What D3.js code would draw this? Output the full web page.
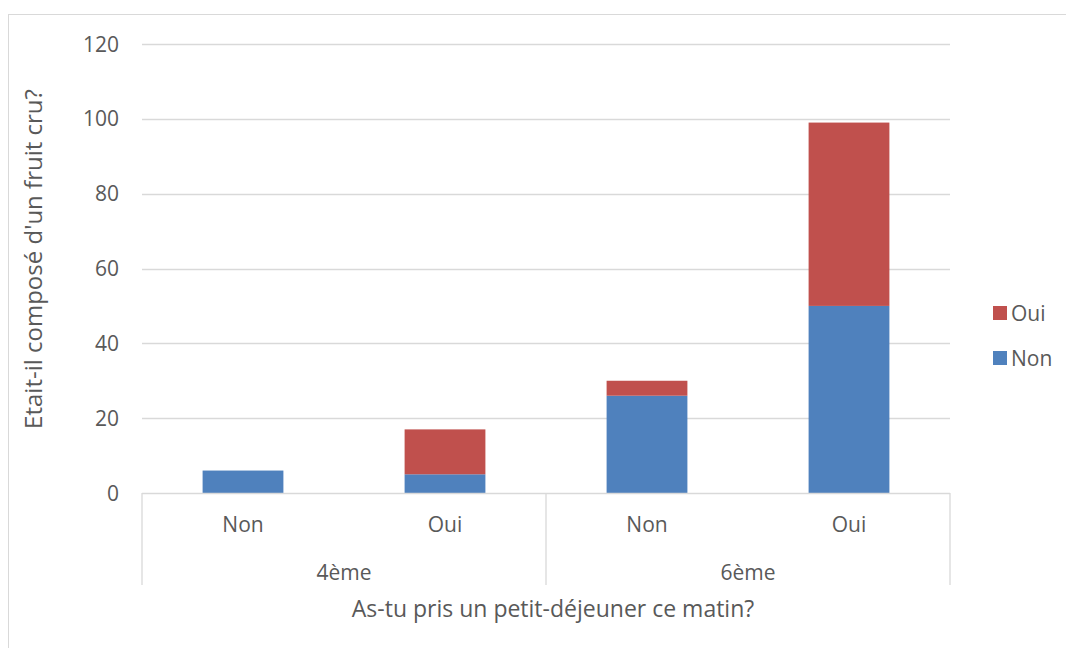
<!DOCTYPE html>
<html>
<head>
<meta charset="utf-8">
<script src="https://cdn.jsdelivr.net/npm/d3@7"></script>
<style>
  html, body { margin: 0; padding: 0; background: #fff; }
  svg text { font-family: "Open Sans", "Liberation Sans", sans-serif; fill: #595959; }
</style>
</head>
<body>
<svg id="chart" width="1066" height="648"></svg>
<script>
// Breakfast survey: grouped by class level, then by "breakfast taken?"
const groups = ["4ème", "6ème"];
const categories = [
  { group: "4ème", label: "Non" },
  { group: "4ème", label: "Oui" },
  { group: "6ème", label: "Non" },
  { group: "6ème", label: "Oui" }
];
// Stack series: "did it contain raw fruit?"
const seriesNames = ["Non", "Oui"];
const valuesNon = [6, 5, 26, 50];
const valuesOui = [0, 12, 4, 49];
const yTicks = [0, 20, 40, 60, 80, 100, 120];
const colors = { Non: "#4f81bd", Oui: "#c0504d" };

const svg = d3.select("#chart");
const W = 1066, H = 648;

// chart border
svg.append("rect").attr("x", 8.5).attr("y", 14.5).attr("width", W).attr("height", H)
  .attr("fill", "none").attr("stroke", "#d9d9d9").attr("stroke-width", 1);

const plot = { left: 142, right: 950, top: 44, bottom: 493 };

const x = d3.scaleBand()
  .domain(d3.range(categories.length))
  .range([plot.left, plot.right])
  .paddingInner(0.6).paddingOuter(0.3);

const y = d3.scaleLinear().domain([0, 120]).range([plot.bottom, plot.top]);

// gridlines
svg.append("g").selectAll("line").data(yTicks.filter(t => t > 0)).join("line")
  .attr("x1", plot.left).attr("x2", plot.right)
  .attr("y1", d => Math.round(y(d)) + 0.5).attr("y2", d => Math.round(y(d)) + 0.5)
  .attr("stroke", "#d9d9d9").attr("stroke-width", 1.3);

// y tick labels
svg.append("g").selectAll("text").data(yTicks).join("text")
  .attr("x", 119).attr("y", d => y(d)).attr("dy", "0.36em")
  .attr("text-anchor", "end").attr("font-size", 21).text(d => d);

// stacked data
const table = categories.map((c, i) => ({ i, Non: valuesNon[i], Oui: valuesOui[i] }));
const stacked = d3.stack().keys(seriesNames)(table);

svg.append("g").selectAll("g").data(stacked).join("g")
  .attr("fill", s => colors[s.key])
  .selectAll("rect").data(s => s.filter(d => d[1] > d[0])).join("rect")
  .attr("x", d => x(d.data.i))
  .attr("width", x.bandwidth())
  .attr("y", d => y(d[1]))
  .attr("height", d => y(d[0]) - y(d[1]));

// category axis: baseline and group separators
const axisG = svg.append("g").attr("stroke", "#d9d9d9").attr("stroke-width", 1.3);
axisG.append("line").attr("x1", plot.left).attr("x2", plot.right)
  .attr("y1", plot.bottom + 0.5).attr("y2", plot.bottom + 0.5);
const sepX = [plot.left, plot.left + 2 * (plot.right - plot.left) / 4, plot.right];
axisG.selectAll("line.sep").data(sepX).join("line").attr("class", "sep")
  .attr("x1", d => d).attr("x2", d => d)
  .attr("y1", plot.bottom).attr("y2", 585);

// inner labels
svg.append("g").selectAll("text").data(categories).join("text")
  .attr("x", (d, i) => x(i) + x.bandwidth() / 2).attr("y", 532)
  .attr("text-anchor", "middle").attr("font-size", 21).text(d => d.label);

// group labels
svg.append("g").selectAll("text").data(groups).join("text")
  .attr("x", (g, gi) => (sepX[gi] + sepX[gi + 1]) / 2).attr("y", 580)
  .attr("text-anchor", "middle").attr("font-size", 21).text(g => g);

// axis titles
svg.append("text").attr("x", 553).attr("y", 617)
  .attr("text-anchor", "middle").attr("font-size", 23)
  .text("As-tu pris un petit-déjeuner ce matin?");
svg.append("text").attr("transform", `translate(42, 259) rotate(-90)`)
  .attr("text-anchor", "middle").attr("font-size", 24)
  .text("Etait-il composé d'un fruit cru?");

// legend (Oui above Non)
const legend = svg.append("g").selectAll("g").data(["Oui", "Non"]).join("g")
  .attr("transform", (d, i) => `translate(993, ${306 + i * 45})`);
legend.append("rect").attr("width", 14).attr("height", 14).attr("fill", d => colors[d]);
legend.append("text").attr("x", 18).attr("y", 7).attr("dy", "0.36em")
  .attr("font-size", 21).text(d => d);
</script>
</body>
</html>
